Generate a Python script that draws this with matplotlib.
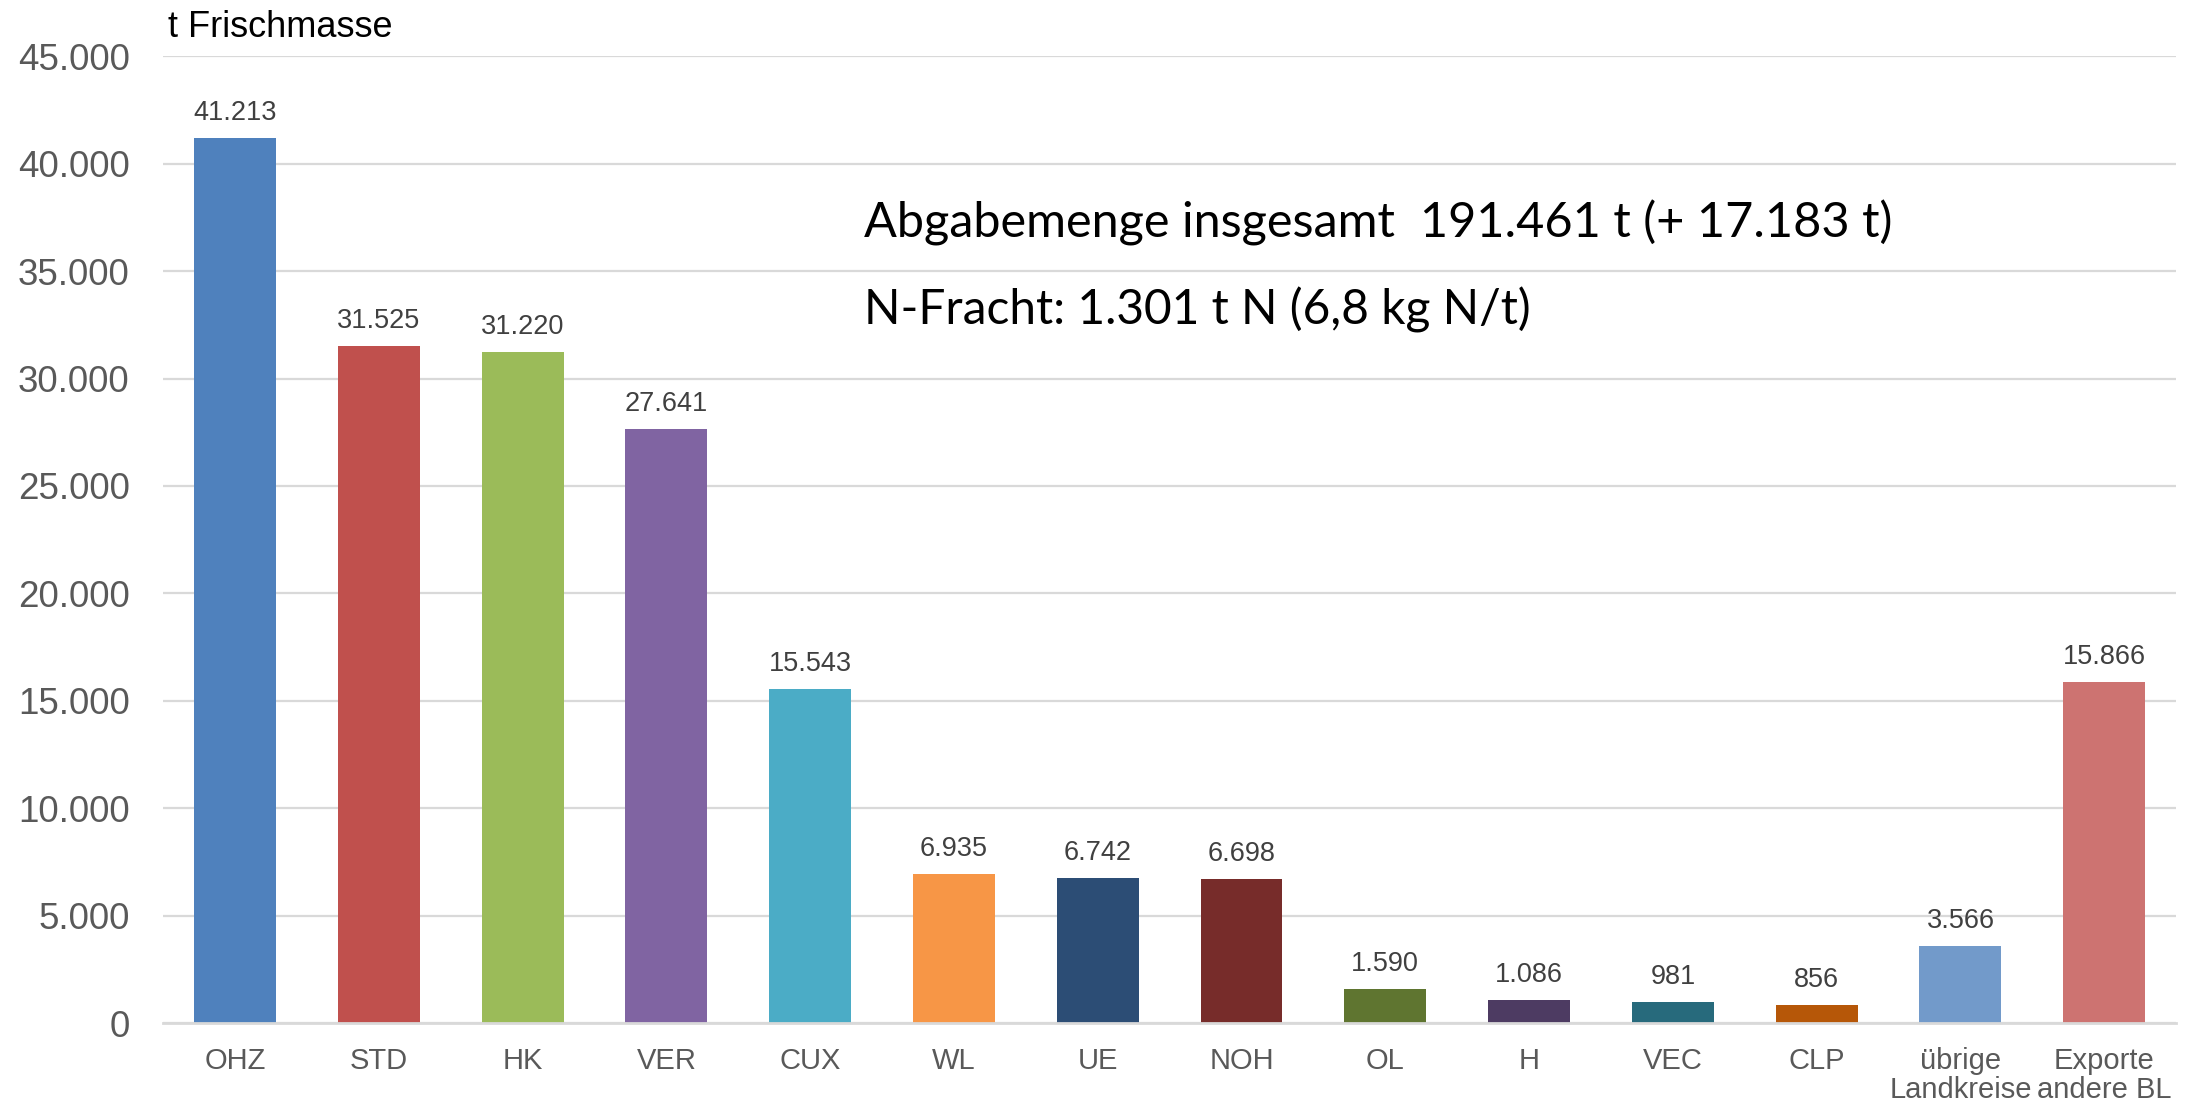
import matplotlib.pyplot as plt
from matplotlib.ticker import FuncFormatter

# Daten
kreise = ["OHZ", "STD", "HK", "VER", "CUX", "WL", "UE", "NOH", "OL", "H",
          "VEC", "CLP", "übrige\nLandkreise", "Exporte\nandere BL"]
mengen = [41213, 31525, 31220, 27641, 15543, 6935, 6742, 6698, 1590, 1086,
          981, 856, 3566, 15866]
farben = ["#4F81BD", "#C0504D", "#9BBB59", "#8064A2", "#4BACC6", "#F79646",
          "#2C4D75", "#772C2A", "#5F7530", "#4D3B62", "#276A7C", "#B65708",
          "#729ACA", "#CD7371"]
y_ticks = [0, 5000, 10000, 15000, 20000, 25000, 30000, 35000, 40000, 45000]

text_gesamt = "Abgabemenge insgesamt  191.461 t (+ 17.183 t)"
text_n = "N-Fracht: 1.301 t N (6,8 kg N/t)"


def de_fmt(v, pos=None):
    return f"{int(v):,}".replace(",", ".")


plt.rcParams["font.family"] = ["Liberation Sans", "DejaVu Sans"]

fig = plt.figure(figsize=(21.86, 11.03), dpi=100)
ax = fig.add_axes([0.0746, 0.0725, 0.9209, 0.8765])

x = list(range(len(kreise)))
bars = ax.bar(x, mengen, width=0.57, color=farben, zorder=3)

for xi, v in zip(x, mengen):
    ax.annotate(de_fmt(v), (xi, v), xytext=(0, 13), textcoords="offset points",
                ha="center", va="baseline", fontsize=19.5, color="#404040")

ax.set_xlim(-0.5, len(kreise) - 0.5)
ax.set_ylim(0, 45000)
ax.set_yticks(y_ticks)
ax.yaxis.set_major_formatter(FuncFormatter(de_fmt))
ax.set_xticks(x)
ax.set_xticklabels(kreise, linespacing=1.08)

ax.grid(axis="y", color="#D9D9D9", linewidth=1.6, zorder=0)
for s in ["top", "right", "left"]:
    ax.spines[s].set_visible(False)
ax.spines["bottom"].set_color("#D9D9D9")
ax.spines["bottom"].set_linewidth(2)
ax.spines["bottom"].set_zorder(4)

ax.tick_params(axis="y", length=0, pad=24, labelsize=26.5, labelcolor="#595959")
ax.tick_params(axis="x", length=0, pad=17, labelsize=21, labelcolor="#595959")

fig.text(168 / 2186, 1 - 37 / 1103, "t Frischmasse", fontsize=26,
         color="#000000", ha="left", va="baseline")

fig.text(864 / 2186, 1 - 237 / 1103, text_gesamt, fontsize=35,
         family=["Lato", "DejaVu Sans"], ha="left", va="baseline", color="#000000")
fig.text(864 / 2186, 1 - 325 / 1103, text_n, fontsize=34.5,
         family=["Lato", "DejaVu Sans"], ha="left", va="baseline", color="#000000")

fig.savefig("out.png", dpi=100)
